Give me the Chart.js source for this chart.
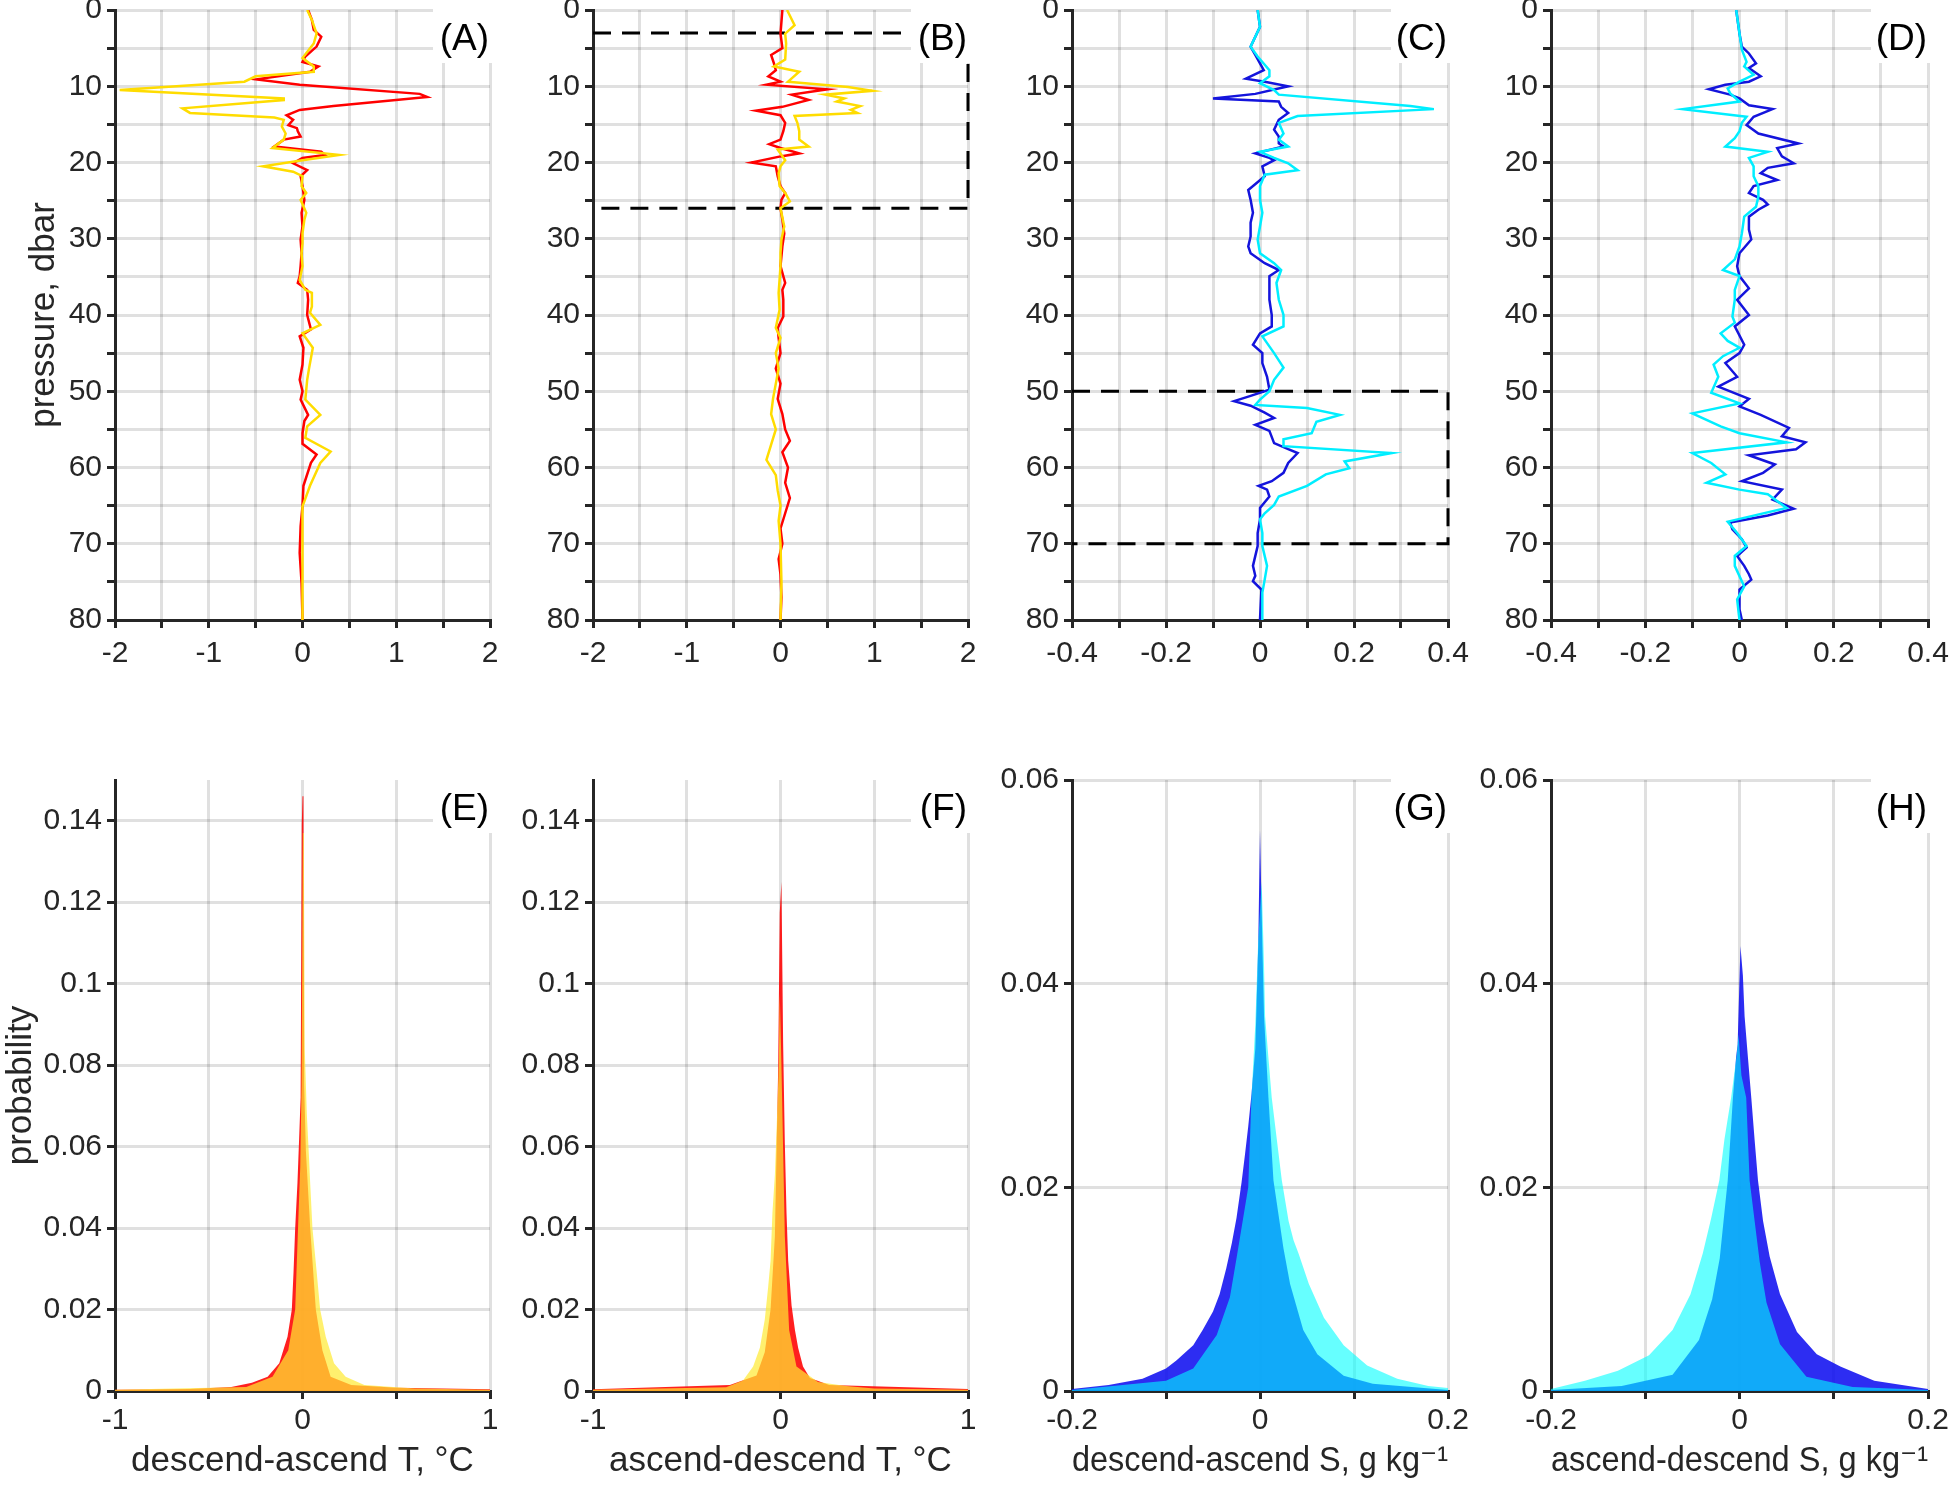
<!DOCTYPE html>
<html>
<head>
<meta charset="utf-8">
<script src="https://cdn.jsdelivr.net/npm/chart.js@4.4.1/dist/chart.umd.min.js"></script>
<style>
  html, body { margin: 0; padding: 0; background: #fff; overflow: hidden; }
  body { width: 1949px; height: 1498px; position: relative; }
  canvas { position: absolute; }
</style>
</head>
<body>
<canvas id="cA"></canvas><canvas id="cB"></canvas><canvas id="cC"></canvas><canvas id="cD"></canvas>
<canvas id="cE"></canvas><canvas id="cF"></canvas><canvas id="cG"></canvas><canvas id="cH"></canvas>
<script>
/* profiles: pressure (dbar) and difference value, per panel and sensor */
const pA_red = [0,1.3,2.6,3.5,4.8,6.1,6.8,7.4,8.1,9.1,9.8,11.0,11.4,12.6,13.1,13.8,14.4,15.1,15.5,15.9,16.6,17.0,17.9,18.6,19.0,19.4,20.1,21.0,21.8,23.1,24.9,26.6,28.4,30.1,31.9,33.6,34.9,35.8,36.7,38.0,40.0,41.9,42.8,44.3,46.5,48.5,50.0,51.1,53.1,53.9,55.5,56.9,58.3,59.4,62.4,65.1,67.7,71.2,75.1,80];
const dA_red = [0.06,0.1,0.12,0.2,0.15,0.03,0.0,0.17,0.08,-0.49,-0.03,1.25,1.33,0.33,-0.03,-0.17,-0.1,-0.15,-0.06,-0.05,-0.02,-0.2,-0.3,0.2,0.24,0.0,-0.1,0.05,-0.02,0.0,0.02,-0.01,0.0,-0.02,-0.01,-0.02,-0.03,-0.05,0.05,0.06,0.05,0.09,-0.03,0.01,0.0,-0.03,0.0,-0.02,0.06,0.02,0.0,0.0,0.15,0.09,0.01,0.0,-0.02,-0.03,-0.01,0.0];
const pA_yel = [0,1.3,3.1,4.4,6.3,7.4,8.1,8.7,9.4,10.5,11.6,11.8,12.9,13.5,14.1,14.4,15.3,16.2,17.0,18.1,19.0,19.7,20.5,21.2,21.8,23.1,24.0,24.9,26.6,27.5,29.3,30.6,31.9,33.6,35.4,36.7,37.1,38.9,39.7,41.3,42.4,44.3,47.0,48.5,51.1,53.1,54.6,56.1,57.9,59.4,62.4,65.1,68.6,80];
const dA_yel = [0.05,0.1,0.15,0.12,0.0,0.12,0.12,-0.5,-0.62,-1.95,-0.2,-0.2,-1.28,-1.2,-0.3,-0.2,-0.22,-0.18,-0.2,-0.32,0.39,0.0,-0.42,-0.1,0.0,-0.01,0.04,-0.02,0.04,0.02,0.0,0.0,-0.01,0.0,-0.03,0.03,0.1,0.1,0.08,0.19,0.0,0.11,0.07,0.05,0.03,0.19,0.05,0.03,0.3,0.19,0.08,0.0,0.0,0.0];

const pB_red = [0,3.1,5.0,5.9,7.0,7.9,8.7,9.4,9.8,10.4,11.1,11.8,12.7,13.2,13.8,14.8,15.9,17.0,17.6,18.1,18.8,19.2,20.0,20.5,21.8,23.1,24.0,24.9,26.0,27.5,29.3,31.0,33.6,35.8,36.7,38.0,40.2,41.7,43,45,47,49,51,53,55,56.5,58,60,62,64,66,68,70,72,74,77,80];
const dB_red = [0.02,0.0,0.02,-0.1,-0.07,-0.05,-0.13,0.0,-0.15,0.5,0.12,0.3,0.02,-0.26,0.0,0.05,0.03,0.0,-0.12,0.0,0.2,0.0,-0.31,-0.05,-0.03,0.0,0.05,0.01,0.0,0.02,0.04,0.02,0.0,0.05,0.02,0.03,0.03,-0.03,-0.02,0.0,-0.05,0.0,-0.03,0.02,0.05,0.1,0.02,0.08,0.05,0.1,0.05,0.0,0.02,-0.02,0.0,0.01,0.0];
const pB_yel = [0,2.0,3.1,4.4,6.5,7.4,8.1,9.4,10.1,10.6,11.1,11.6,12.0,12.6,13.1,13.5,13.9,14.8,15.9,17.0,17.9,18.3,19.7,20.5,21.4,23.1,24.0,25.1,26.0,28.4,30.1,31.9,33.6,35.4,37.1,39.3,41.7,43,45,47,49,51,53,55,57,59,61,63,65,67,70,75,80];
const dB_yel = [0.07,0.15,0.05,0.06,0.05,-0.07,0.2,0.08,0.72,0.98,0.48,0.68,0.6,0.85,0.75,0.82,0.15,0.18,0.2,0.2,0.3,-0.03,0.05,0.0,-0.02,-0.01,0.05,0.1,0.0,0.04,0.01,0.0,0.0,-0.01,-0.02,-0.01,-0.05,0.0,-0.05,-0.02,-0.05,-0.08,-0.1,-0.05,-0.1,-0.15,-0.05,-0.03,0.0,-0.02,0.0,0.01,0.0];

const pC_blu = [0,2.2,4.8,5.9,7.0,7.9,9.0,9.4,10.0,11.0,11.6,12.0,12.7,13.5,14.4,15.7,16.6,17.5,17.9,18.8,19.4,19.7,20.5,21.8,23.6,24.9,26.6,27.9,29.7,31.0,31.9,33.2,34.1,34.9,36.2,38.0,40.0,41.5,42.4,43.9,45.0,46.3,48.1,49.8,50.6,51.3,51.9,52.8,53.5,54.4,55.2,56.8,57.6,58.1,59.4,60.7,61.8,62.4,62.9,63.8,65.3,66.8,68.6,70.3,72.9,74.2,74.9,76.0,80];
const dC_blu = [-0.005,0.0,-0.02,-0.01,0.0,0.008,-0.03,0.01,0.06,-0.01,-0.1,0.04,0.045,0.06,0.04,0.03,0.04,0.04,0.05,-0.01,0.02,0.03,0.005,0.01,-0.025,-0.02,-0.015,-0.02,-0.02,-0.025,-0.02,0.01,0.04,0.02,0.02,0.02,0.025,0.025,0.0,-0.015,0.005,0.005,0.015,0.02,-0.02,-0.055,-0.02,0.01,0.03,-0.01,0.02,0.03,0.06,0.08,0.06,0.05,0.025,-0.003,0.015,0.02,0.0,0.0,-0.005,-0.005,-0.015,-0.01,-0.015,0.003,0.0];
const pC_cyn = [0,2.2,4.8,6.1,7.9,8.7,9.6,10.5,11.1,12.6,13.0,13.9,14.8,16.2,17.0,17.9,18.6,19.4,20.1,21.0,21.6,23.1,24.9,26.6,28.4,30.1,31.9,33.2,34.1,35.8,38.0,40.0,41.5,42.8,45.0,46.9,48.5,50.0,51.1,51.8,52.2,53.1,54.0,55.5,56.3,57.2,58.1,59.2,60.1,60.9,62.4,63.8,64.9,66.0,66.8,68.6,70.3,72.9,74.7,76.4,80];
const dC_cyn = [-0.005,0.0,-0.02,-0.005,0.02,0.02,0.0,0.03,0.04,0.32,0.37,0.08,0.04,0.05,0.04,0.06,0.0,0.03,0.06,0.08,0.01,0.0,0.0,0.005,0.0,-0.005,0.0,0.03,0.045,0.035,0.04,0.05,0.05,0.005,0.03,0.05,0.03,0.02,0.0,-0.01,0.1,0.17,0.12,0.11,0.05,0.05,0.28,0.18,0.19,0.14,0.1,0.04,0.03,0.01,0.0,0.005,0.005,0.015,0.01,0.005,0.005];

const pD_blu = [0,3.1,4.8,5.7,7.0,7.6,8.7,9.4,9.8,10.4,11.1,11.6,12.5,13.0,14.0,15.1,16.2,17.5,18.1,19.2,20.1,20.7,21.4,22.3,23.1,24.0,24.9,25.5,26.2,27.1,28.8,30.1,31.9,33.6,34.9,36.5,38.0,40.0,41.5,43.9,45.0,46.3,48.1,49.4,51.0,52.0,53.1,54.8,55.9,56.7,57.6,58.4,59.6,60.7,61.8,62.9,64.2,65.4,66.3,67.2,68.1,69.4,70.5,71.6,72.9,74.0,74.7,76.0,78.6,80];
const dD_blu = [-0.007,0.0,0.005,0.02,0.035,0.02,0.045,0.02,-0.03,-0.065,-0.02,0.0,0.02,0.07,0.03,0.015,0.04,0.125,0.08,0.09,0.115,0.06,0.045,0.08,0.03,0.02,0.05,0.06,0.04,0.02,0.02,0.025,0.0,-0.005,0.0,0.02,-0.005,0.02,-0.01,0.01,0.0,-0.03,-0.005,-0.045,0.02,0.0,0.045,0.105,0.09,0.14,0.12,0.02,0.075,0.05,0.005,0.09,0.07,0.115,0.06,-0.02,-0.015,0.005,0.015,-0.005,0.01,0.02,0.025,0.0,0.0,0.005];
const pD_cyn = [0,3.1,5.2,6.8,7.4,8.5,9.4,10.3,10.9,12.0,13.0,14.0,14.8,15.9,16.8,17.9,18.6,19.4,20.5,21.8,23.1,24.5,25.8,27.1,29.3,31.0,32.7,34.1,34.9,36.7,38.0,40.2,41.0,42.4,43.4,44.3,45.4,46.5,48.1,50.2,51.6,52.9,54.6,55.5,56.7,58.1,59.4,60.9,62.0,62.9,63.5,65.3,67.1,68.6,70.3,71.6,72.9,75.6,77.3,80];
const dD_cyn = [-0.007,0.0,0.005,0.015,0.01,0.03,0.0,-0.025,-0.02,0.0,-0.12,0.015,0.005,0.0,-0.01,-0.03,0.06,0.02,0.03,0.03,0.04,0.04,0.035,0.01,0.005,0.0,-0.01,-0.035,0.0,-0.01,-0.01,-0.015,-0.01,-0.04,-0.025,0.0,-0.035,-0.055,-0.045,-0.06,0.0,-0.1,-0.04,0.0,0.1,-0.1,-0.06,-0.03,-0.07,0.0,0.06,0.1,-0.025,-0.005,0.015,-0.01,-0.01,0.01,-0.005,0.0];

/* dashed boxes (pressure limits) */
const boxB_p = [3, 26];
const boxC_p = [50, 70];

/* histograms: bin centre and probability (envelope) */
const xE_red = [-1,-0.6,-0.38,-0.27,-0.186,-0.124,-0.08,-0.057,-0.048,-0.039,-0.027,-0.018,-0.01,-0.004,0.0,0.005,0.009,0.018,0.041,0.071,0.106,0.15,0.26,0.5,1];
const yE_red = [0.0003,0.0005,0.001,0.002,0.0035,0.0068,0.0133,0.02,0.029,0.04,0.051,0.062,0.072,0.139,0.146,0.146,0.075,0.059,0.04,0.02,0.01,0.0035,0.0015,0.0008,0.0004];
const xE_yel = [-1,-0.3,-0.16,-0.076,-0.039,-0.03,-0.02,-0.012,-0.005,0.002,0.007,0.012,0.023,0.035,0.041,0.053,0.076,0.094,0.124,0.168,0.23,0.33,0.6,1];
const yE_yel = [0.0003,0.001,0.0035,0.01,0.02,0.032,0.045,0.055,0.075,0.137,0.137,0.084,0.068,0.057,0.051,0.04,0.029,0.02,0.0133,0.0068,0.0035,0.0015,0.0006,0.0003];

const xF_red = [-1,-0.27,-0.128,-0.084,-0.053,-0.03,-0.0125,-0.004,0.005,0.014,0.023,0.032,0.041,0.059,0.077,0.094,0.12,0.157,0.26,1];
const yF_red = [0.0004,0.0015,0.0038,0.0095,0.02,0.038,0.079,0.1175,0.125,0.0855,0.061,0.0438,0.032,0.021,0.015,0.0106,0.006,0.0032,0.0015,0.0005];
const xF_yel = [-1,-0.29,-0.2,-0.146,-0.11,-0.084,-0.066,-0.053,-0.043,-0.03,-0.02,-0.009,-0.004,0.005,0.023,0.046,0.085,0.2,0.35,0.5,1];
const yF_yel = [0.0003,0.0009,0.0026,0.006,0.0106,0.0175,0.0255,0.032,0.0438,0.053,0.0655,0.08,0.0975,0.08,0.038,0.015,0.006,0.0022,0.0012,0.0006,0.0003];

const xG_blu = [-0.2,-0.161,-0.125,-0.1,-0.089,-0.071,-0.061,-0.05,-0.043,-0.036,-0.03,-0.025,-0.0196,-0.016,-0.0125,-0.009,-0.005,-0.0036,-0.0018,0.0,0.001,0.002,0.0043,0.009,0.0143,0.025,0.032,0.046,0.061,0.089,0.12,0.2];
const yG_blu = [0.0002,0.0006,0.0012,0.0022,0.003,0.0045,0.006,0.0078,0.0095,0.012,0.0145,0.017,0.0205,0.0232,0.026,0.0292,0.0336,0.038,0.0441,0.0551,0.0551,0.046,0.0368,0.0288,0.0207,0.014,0.0105,0.006,0.0036,0.0015,0.0007,0.0001];
const xG_cyn = [-0.2,-0.1,-0.071,-0.046,-0.032,-0.025,-0.0125,-0.009,-0.005,-0.002,0.0018,0.0043,0.0054,0.0089,0.0125,0.0179,0.0232,0.0304,0.0357,0.041,0.052,0.068,0.089,0.114,0.146,0.179,0.2];
const yG_cyn = [0.0001,0.001,0.0022,0.0055,0.0092,0.013,0.020,0.029,0.036,0.044,0.050,0.0417,0.0368,0.0328,0.0288,0.0247,0.0207,0.0167,0.0148,0.0135,0.0105,0.0072,0.0045,0.0025,0.0012,0.0005,0.0003];

const xH_blu = [-0.2,-0.125,-0.071,-0.043,-0.029,-0.021,-0.0125,-0.007,-0.0036,-0.002,0.001,0.0036,0.0054,0.0089,0.0125,0.016,0.0196,0.025,0.032,0.043,0.061,0.082,0.107,0.143,0.2];
const yH_blu = [0.0001,0.0005,0.0016,0.005,0.009,0.013,0.0207,0.0288,0.0328,0.034,0.0437,0.0408,0.0368,0.0328,0.0288,0.0247,0.0207,0.0167,0.0132,0.0095,0.0058,0.0036,0.0024,0.001,0.0002];
const xH_cyn = [-0.2,-0.164,-0.129,-0.096,-0.071,-0.052,-0.039,-0.030,-0.0214,-0.016,-0.0089,-0.003,-0.001,0.002,0.0071,0.0107,0.0214,0.0286,0.043,0.071,0.12,0.2];
const yH_cyn = [0.0002,0.001,0.002,0.0035,0.006,0.0095,0.0135,0.017,0.0207,0.0247,0.0288,0.033,0.035,0.031,0.0288,0.0207,0.0127,0.0087,0.0046,0.0014,0.0004,0.0001];

const FONT = '"Liberation Sans", Arial, "DejaVu Sans", sans-serif';
const AX = '#262626';
const GRID = 'rgba(0,0,0,0.12)';
Chart.defaults.font.family = FONT;
Chart.defaults.color = AX;
Chart.defaults.animation = false;
Chart.defaults.plugins.legend.display = false;
Chart.defaults.plugins.tooltip.enabled = false;

/* white-backed panel letter in the top right corner */
Chart.register({
  id: 'panelTag',
  afterDraw(chart, args, o) {
    if (!o.text) return;
    const { ctx, chartArea: a } = chart;
    ctx.save();
    ctx.fillStyle = '#fff';
    ctx.fillRect(a.right - 57, a.top - 4, 66, 57);
    ctx.fillStyle = '#000';
    ctx.font = '37px ' + FONT;
    ctx.textAlign = 'right';
    ctx.textBaseline = 'middle';
    ctx.fillText(o.text, a.right - 1, a.top + 30);
    ctx.restore();
  }
});

const fmtInt = v => Number.isInteger(v) ? String(v) : '';
const fmtTen = v => v % 10 === 0 ? String(v) : '';
const fmtEven = v => Math.abs(Math.round(v * 10)) % 2 === 0 ? String(+v.toFixed(1)) : '';
const fmtProb = v => String(+v.toFixed(2));

function scale(o) {
  return {
    type: 'linear',
    min: o.min, max: o.max, reverse: !!o.reverse,
    afterFit: s => { if (o.w) s.width = o.w; if (o.h) s.height = o.h; },
    afterBuildTicks: s => { if (o.top != null) s.ticks = s.ticks.filter(t => t.value <= o.top + 1e-9); },
    grid: { color: GRID, lineWidth: 3, tickColor: AX, tickWidth: 3, tickLength: 8 },
    border: { display: true, color: AX, width: 3 },
    ticks: { stepSize: o.step, autoSkip: false, maxRotation: 0, minRotation: 0,
             padding: o.pad, font: { size: 30 }, color: AX, callback: o.fmt },
    title: o.title ? { display: true, text: o.title, font: { size: 35 }, color: AX, padding: o.tpad }
                   : { display: false }
  };
}

function place(id, left, top, w, h) {
  const c = document.getElementById(id);
  c.width = w; c.height = h;
  c.style.left = left + 'px'; c.style.top = top + 'px';
  return c;
}

const pts = (xs, ys) => xs.map((x, i) => ({ x: x, y: ys[i] }));
const line = (data, color) => ({ data: data, borderColor: color, borderWidth: 2.5, pointRadius: 0, tension: 0, fill: false });

/* top row: profiles, plot area y 10..620 */
function profile(id, left, axW, plotW, lim, step, fmt, series, box, tag, yTitle) {
  const c = place(id, left - axW, -14, axW + plotW + 30, 24 + 610 + 60);
  const sets = series.map(s => line(pts(s[1], s[0]), s[2]));
  if (box) {
    sets.push({ data: [{ x: -lim, y: box[0] }, { x: lim, y: box[0] }, { x: lim, y: box[1] }, { x: -lim, y: box[1] }],
      borderColor: '#000', borderWidth: 3, borderDash: [18, 11], pointRadius: 0, fill: false, clip: 6 });
  }
  new Chart(c, {
    type: 'line',
    data: { datasets: sets },
    options: {
      responsive: false, indexAxis: 'y',
      layout: { padding: { top: 24, left: 0, right: 30, bottom: 0 } },
      plugins: { panelTag: { text: tag } },
      scales: {
        x: scale({ min: -lim, max: lim, step: step, fmt: fmt, pad: 8, h: 60 }),
        y: scale({ min: 0, max: 80, step: 5, fmt: fmtTen, pad: 5, reverse: true, w: axW,
                   title: yTitle, tpad: { top: 23, bottom: 0 } })
      }
    }
  });
}

/* bottom row: histograms, plot area y 780..1391 */
function hist(id, left, axW, plotW, lim, step, fmt, ymax, ytop, series, tag, xTitle, yTitle) {
  const c = place(id, left - axW, 740, axW + plotW + 30, 40 + 611 + 107);
  const sets = series.map(s => ({ data: pts(s[0], s[1]), backgroundColor: s[2], borderWidth: 0,
                                  pointRadius: 0, tension: 0, fill: 'origin' }));
  new Chart(c, {
    type: 'line',
    data: { datasets: sets },
    options: {
      responsive: false,
      layout: { padding: { top: 40, left: 0, right: 30, bottom: 0 } },
      plugins: { panelTag: { text: tag } },
      scales: {
        x: scale({ min: -lim, max: lim, step: step, fmt: fmt, pad: 4, h: 107,
                   title: xTitle, tpad: { top: 0, bottom: 16 } }),
        y: scale({ min: 0, max: ymax, step: 0.02, fmt: fmtProb, pad: 5, w: axW, top: ytop,
                   title: yTitle, tpad: { top: 0, bottom: 0 } })
      }
    }
  });
}

const RED = '#ff0000', YEL = '#ffdc00', BLU = '#1414dc', CYN = '#00eeff';

profile('cA', 115, 115, 375, 2, 0.5, fmtInt, [[pA_yel, dA_yel, YEL], [pA_red, dA_red, RED]], null, '(A)', 'pressure, dbar');
profile('cB', 593, 110, 375, 2, 0.5, fmtInt, [[pB_yel, dB_yel, YEL], [pB_red, dB_red, RED]], boxB_p, '(B)', null);
profile('cC', 1072, 110, 376, 0.4, 0.1, fmtEven, [[pC_cyn, dC_cyn, CYN], [pC_blu, dC_blu, BLU]], boxC_p, '(C)', null);
profile('cD', 1551, 110, 377, 0.4, 0.1, fmtEven, [[pD_cyn, dD_cyn, CYN], [pD_blu, dD_blu, BLU]], null, '(D)', null);

const H_RED = 'rgba(255,0,0,0.88)', H_YEL = 'rgba(255,234,51,0.71)';
const H_BLU = 'rgba(10,10,240,0.86)', H_CYN = 'rgba(0,255,255,0.6)';

hist('cE', 115, 115, 375, 1, 0.5, fmtInt, 0.15, 0.14, [[xE_yel, yE_yel, H_YEL], [xE_red, yE_red, H_RED]], '(E)', 'descend-ascend T, °C', 'probability');
hist('cF', 593, 110, 375, 1, 0.5, fmtInt, 0.15, 0.14, [[xF_yel, yF_yel, H_YEL], [xF_red, yF_red, H_RED]], '(F)', 'ascend-descend T, °C', null);
hist('cG', 1072, 110, 376, 0.2, 0.1, fmtEven, 0.06, null, [[xG_cyn, yG_cyn, H_CYN], [xG_blu, yG_blu, H_BLU]], '(G)', 'descend-ascend S, g kg⁻¹', null);
hist('cH', 1551, 110, 377, 0.2, 0.1, fmtEven, 0.06, null, [[xH_cyn, yH_cyn, H_CYN], [xH_blu, yH_blu, H_BLU]], '(H)', 'ascend-descend S, g kg⁻¹', null);
</script>
</body>
</html>
